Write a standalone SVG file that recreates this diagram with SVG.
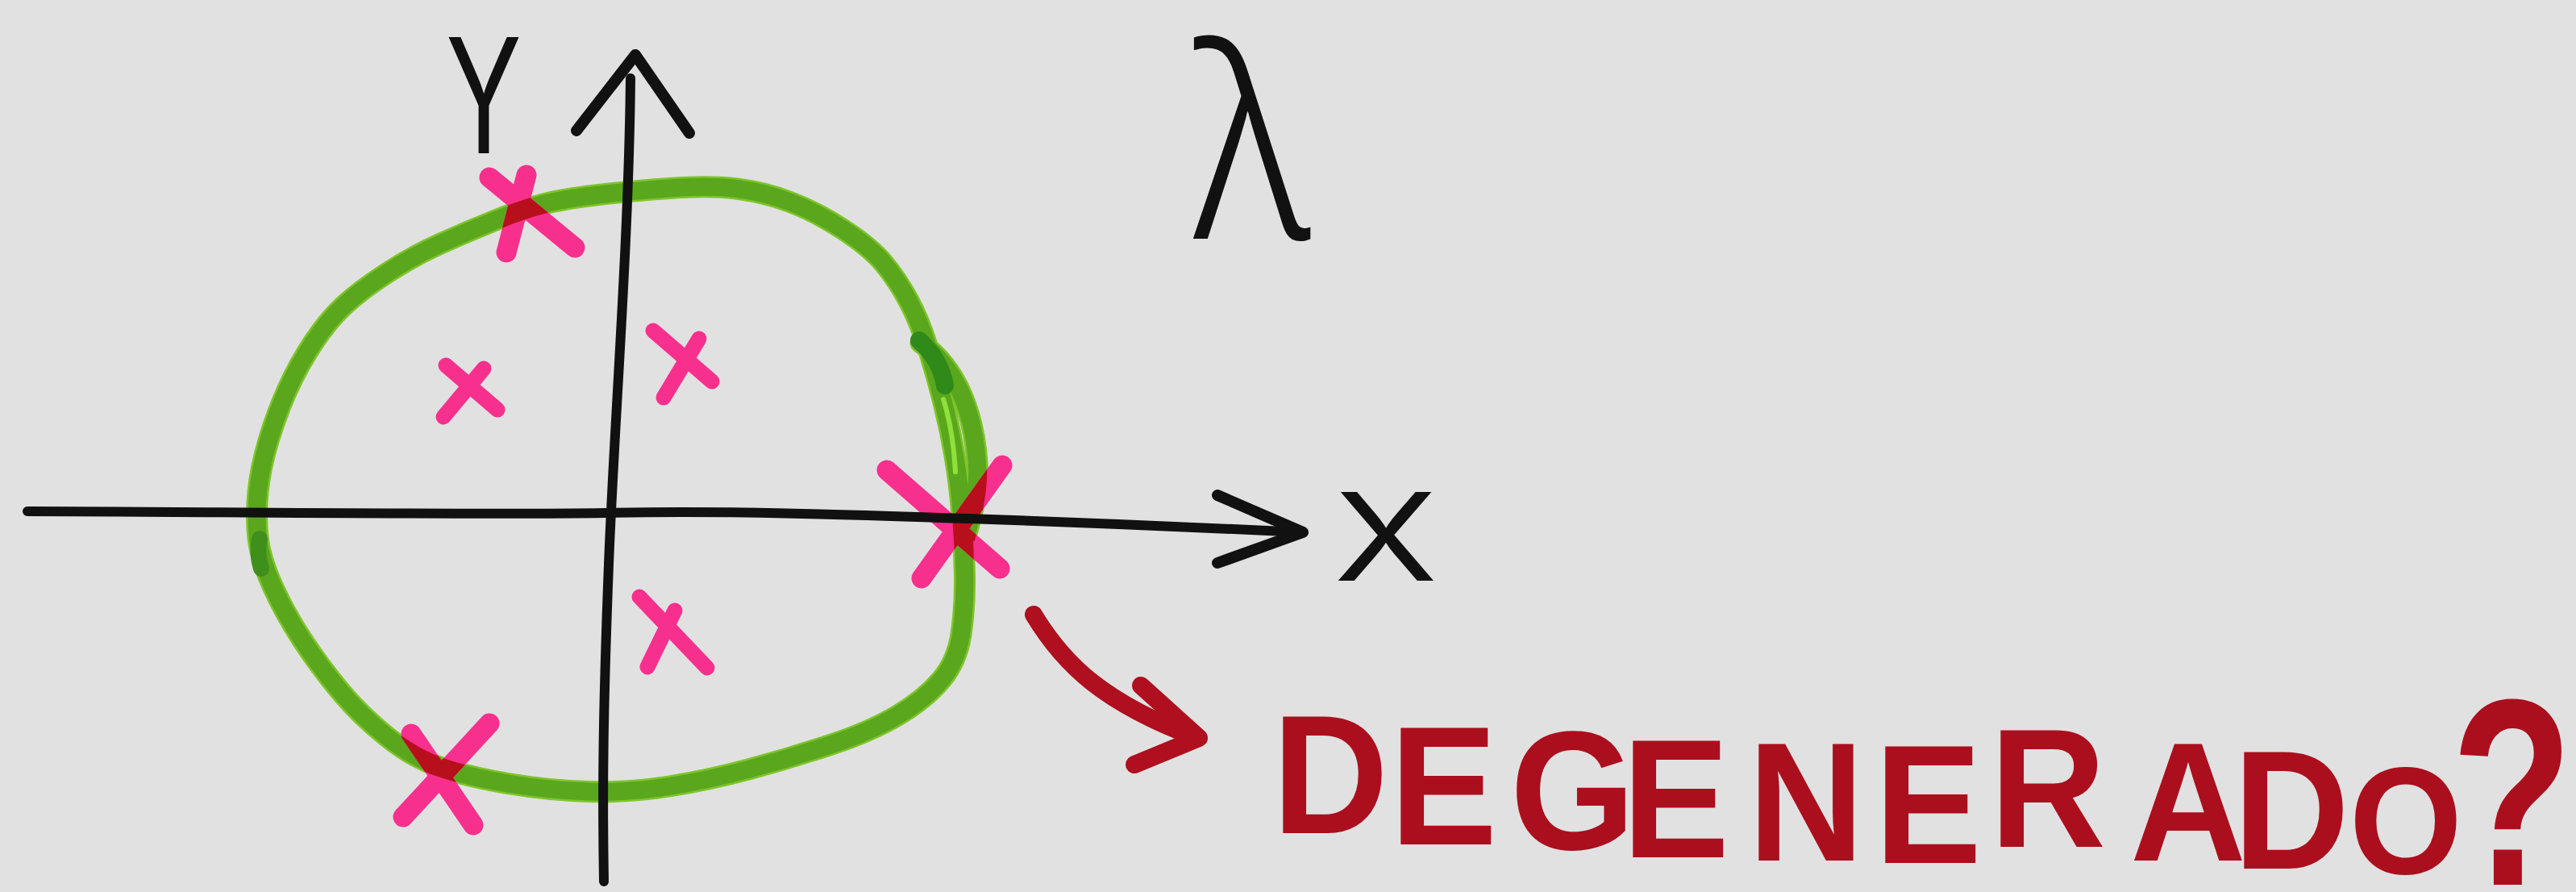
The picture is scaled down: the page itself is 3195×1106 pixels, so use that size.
<svg xmlns="http://www.w3.org/2000/svg" width="3195" height="1106" viewBox="0 0 3195 1106">
<style>
.ax{fill:none;stroke:#111;stroke-width:12;stroke-linecap:round;stroke-linejoin:round}
.head{fill:none;stroke:#111;stroke-width:14;stroke-linecap:round;stroke-linejoin:round}
.rim{fill:none;stroke:#7ec52a;stroke-width:27;stroke-linecap:round;stroke-linejoin:round}
.green{fill:none;stroke:#5aa71e;stroke-width:22;stroke-linecap:round;stroke-linejoin:round}
.pk{fill:none;stroke:#f7308e;stroke-linecap:round}
.big{stroke-width:25}
.small{stroke-width:19}
.ov{stroke:#b80f1c}
.lbl{font-family:Inter,"Liberation Sans",sans-serif;font-weight:400;fill:#111}
.thin{font-family:"Noto Sans","DejaVu Sans",sans-serif;font-weight:300;fill:#111}
.red{fill:none;stroke:#af0f1e;stroke-width:22;stroke-linecap:round;stroke-linejoin:round}
.word{font-family:"Liberation Sans",Arial,sans-serif;font-weight:bold;fill:#ab0f1e}
</style>
<defs>
<path id="loop" d="M738.5,242 Q780,237 830,233.5 Q880,230 913.5,234 Q947,238 980,250.5 Q1013,263 1046.5,285 Q1080,307 1096.5,327 Q1113,347 1126.5,372 Q1140,397 1150,428.5 Q1160,460 1169,495 Q1178,530 1184,565 Q1190,600 1193,638.5 Q1196,677 1196.5,715 Q1197,753 1192,786.5 Q1187,820 1167,843.5 Q1147,867 1113.5,887 Q1080,907 1030,923.5 Q980,940 930,953.5 Q880,967 830,975 Q780,983 730,981.5 Q680,980 630,971.5 Q580,963 546.5,951.5 Q513,940 480,913.5 Q447,887 422,857 Q397,827 375,793.5 Q353,760 338,726.5 Q323,693 320,666.5 Q317,640 320,610 Q323,580 333,546.5 Q343,513 356.5,483 Q370,453 388.5,425 Q407,397 427,378.5 Q447,360 480,338.5 Q513,317 546.5,302 Q580,287 613.5,273.5 Q647,260 672,253.5 Q697,247 738.5,242 Z"/>
<path id="bulge" d="M1142,425 C1185,455 1208,510 1212,575 C1214,610 1205,640 1197,668"/>
<g id="marks">
<path d="M607,220 L713,307 M653,217 L628,313" class="big"/>
<path d="M553,453 L617,508 M600,457 L550,517" class="small"/>
<path d="M810,410 L883,473 M867,420 L823,493" class="small"/>
<path d="M1100,583 L1240,705 M1243,577 L1143,717" class="big"/>
<path d="M793,740 L877,828 M837,757 L803,827" class="small"/>
<path d="M607,897 L500,1013 M510,910 L587,1023" class="big"/>
</g>
<mask id="onGreen" maskUnits="userSpaceOnUse" x="0" y="0" width="3195" height="1106">
<rect width="3195" height="1106" fill="#000"/>
<use href="#loop" fill="none" stroke="#fff" stroke-width="24"/>
<use href="#bulge" fill="none" stroke="#fff" stroke-width="24"/>
</mask>
</defs>
<rect width="3195" height="1106" fill="#e1e1e1"/>

<g id="circle">
<use href="#loop" class="rim"/>
<use href="#bulge" class="rim"/>
<use href="#loop" class="green"/>
<use href="#bulge" class="green"/>
<path d="M1140,422 C1158,438 1168,455 1172,478" fill="none" stroke="#2f8a1a" stroke-width="22" stroke-linecap="round"/>
<path d="M1170,495 C1178,520 1183,548 1185,585" fill="none" stroke="#8fe03a" stroke-width="6" stroke-linecap="round"/>
<path d="M322,668 Q318,685 324,705" fill="none" stroke="#3f8f1c" stroke-width="20" stroke-linecap="round"/>
</g>

<g id="eigenvalues">
<use href="#marks" class="pk"/>
<use href="#marks" class="pk ov" mask="url(#onGreen)"/>
</g>

<g id="connectors">
<path id="x-axis" class="ax" d="M34,634 C200,634 600,639 750,636 S1050,638 1200,643 S1450,652 1612,660"/>
<path class="head" d="M1510,614 L1616,660 L1510,698"/>
<path id="y-axis" class="ax" d="M782,97 C780,300 762,520 755,700 S747,980 749,1093"/>
<path class="head" d="M715,162 L788,68 L855,165"/>
<path id="pointer" class="red" d="M1282,762 C1320,825 1370,872 1485,915"/>
<path class="red" d="M1415,850 L1487,915 L1407,948"/>
</g>

<g id="label-y">
<text class="lbl" font-size="198" font-weight="500" text-anchor="middle" transform="translate(600,190) scale(0.7,1)">Y</text>
</g>
<g id="label-x">
<text class="lbl" font-size="151" text-anchor="middle" transform="translate(1719,720) scale(1.25,1)">X</text>
</g>
<g id="label-lambda">
<text class="thin" font-size="330" text-anchor="middle" transform="translate(1552,296) scale(0.9,1)">λ</text>
</g>
<g id="label-degenerado">
<text class="word" font-size="210" transform="scale(0.95,1)" x="1661 1814.7 1971.6 2117.9 2282.1 2447.4 2597.9 2781.1 2915.8" y="1033 1047 1053 1063 1067 1070 1050 1067 1077">DEGENERAD<tspan x="3067" y="1083" font-size="190">O</tspan></text>
<text class="word" font-size="330" transform="translate(3040,1097) scale(0.75,1)">?</text>
</g>
</svg>
